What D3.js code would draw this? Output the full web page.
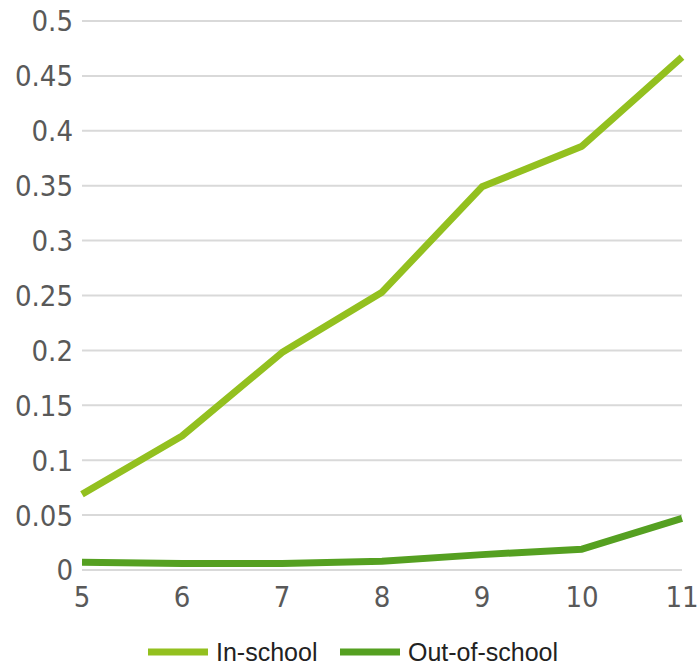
<!DOCTYPE html>
<html>
<head>
<meta charset="utf-8">
<script src="https://cdn.jsdelivr.net/npm/d3@7"></script>
<style>
  body { margin: 0; background: #fff; }
</style>
</head>
<body>
<div id="chart"></div>
<script>
var ages = [5, 6, 7, 8, 9, 10, 11];
var inSchool = [0.069, 0.122, 0.198, 0.253, 0.349, 0.386, 0.467];
var outOfSchool = [0.007, 0.006, 0.006, 0.008, 0.014, 0.019, 0.047];
var yTicks = [0, 0.05, 0.1, 0.15, 0.2, 0.25, 0.3, 0.35, 0.4, 0.45, 0.5];
var seriesNames = ['In-school', 'Out-of-school'];
var seriesColors = ['#93c01f', '#55a021'];

var width = 697, height = 665;
var m = { top: 21, right: 15, bottom: 95, left: 82 };
var innerW = width - m.left - m.right;
var innerH = height - m.top - m.bottom;

var x = d3.scaleLinear().domain([5, 11]).range([0, innerW]);
var y = d3.scaleLinear().domain([0, 0.5]).range([innerH, 0]);

var svg = d3.select('#chart').append('svg')
  .attr('width', width).attr('height', height)
  .style('display', 'block');

var g = svg.append('g').attr('transform', 'translate(' + m.left + ',' + m.top + ')');

/* grid */
g.selectAll('.grid').data(yTicks).join('line')
  .attr('x1', 0).attr('x2', x(11))
  .attr('y1', function (d) { return y(d); })
  .attr('y2', function (d) { return y(d); })
  .attr('stroke', '#d9d9d9').attr('stroke-width', 2);

/* y labels */
g.selectAll('.ylab').data(yTicks).join('text')
  .attr('x', -9)
  .attr('y', function (d) { return y(d); })
  .attr('dy', '0.36em')
  .attr('text-anchor', 'end')
  .attr('fill', '#595959')
  .style('font-family', '"DejaVu Sans Condensed", "DejaVu Sans", sans-serif')
  .style('font-size', '29px')
  .text(function (d) { return d3.format('')(d); });

/* x labels */
g.selectAll('.xlab').data(ages).join('text')
  .attr('x', function (d) { return x(d); })
  .attr('y', innerH + 37)
  .attr('text-anchor', 'middle')
  .attr('fill', '#595959')
  .style('font-family', '"DejaVu Sans Condensed", "DejaVu Sans", sans-serif')
  .style('font-size', '29px')
  .text(function (d) { return d; });

/* lines */
var series = [inSchool, outOfSchool];
var line = d3.line()
  .x(function (d, i) { return x(ages[i]); })
  .y(function (d) { return y(d); });

series.forEach(function (vals, k) {
  g.append('path')
    .datum(vals)
    .attr('d', line)
    .attr('fill', 'none')
    .attr('stroke', seriesColors[k])
    .attr('stroke-width', 7)
    .attr('stroke-linejoin', 'round');
});

/* legend */
var legendX = [148, 340];
var leg = svg.append('g');
seriesNames.forEach(function (name, k) {
  leg.append('line')
    .attr('x1', legendX[k]).attr('x2', legendX[k] + 60)
    .attr('y1', 652).attr('y2', 652)
    .attr('stroke', seriesColors[k]).attr('stroke-width', 7);
  leg.append('text')
    .attr('x', legendX[k] + 68)
    .attr('y', 661)
    .attr('fill', '#222')
    .style('font-family', '"Liberation Sans", Arial, sans-serif')
    .style('font-size', '25px')
    .text(name);
});
</script>
</body>
</html>
